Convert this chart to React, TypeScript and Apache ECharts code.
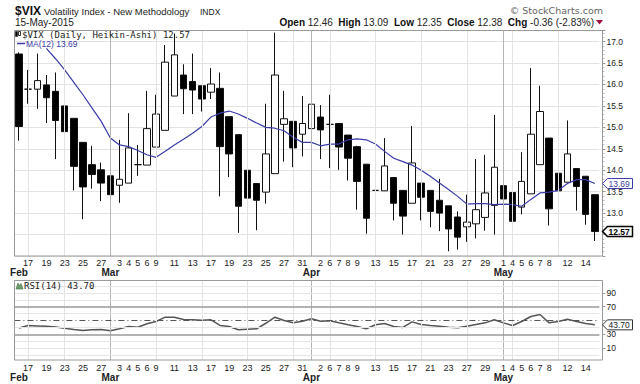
import React, { useEffect, useRef } from 'react';
import * as echarts from 'echarts';

const dates = [
  '2015-02-13','2015-02-17','2015-02-18','2015-02-19','2015-02-20','2015-02-23','2015-02-24','2015-02-25','2015-02-26','2015-02-27',
  '2015-03-02','2015-03-03','2015-03-04','2015-03-05','2015-03-06','2015-03-09','2015-03-10','2015-03-11','2015-03-12','2015-03-13',
  '2015-03-16','2015-03-17','2015-03-18','2015-03-19','2015-03-20','2015-03-23','2015-03-24','2015-03-25','2015-03-26','2015-03-27',
  '2015-03-30','2015-03-31','2015-04-01','2015-04-02','2015-04-06','2015-04-07','2015-04-08','2015-04-09','2015-04-10','2015-04-13',
  '2015-04-14','2015-04-15','2015-04-16','2015-04-17','2015-04-20','2015-04-21','2015-04-22','2015-04-23','2015-04-24','2015-04-27',
  '2015-04-28','2015-04-29','2015-04-30','2015-05-01','2015-05-04','2015-05-05','2015-05-06','2015-05-07','2015-05-08','2015-05-11',
  '2015-05-12','2015-05-13','2015-05-14','2015-05-15',
];

const dayTickDates = [
  '2015-02-17','2015-02-19','2015-02-23','2015-02-25','2015-02-27','2015-03-03','2015-03-04','2015-03-05','2015-03-06','2015-03-09',
  '2015-03-11','2015-03-13','2015-03-17','2015-03-19','2015-03-23','2015-03-25','2015-03-27','2015-03-31','2015-04-02','2015-04-06',
  '2015-04-07','2015-04-08','2015-04-09','2015-04-13','2015-04-15','2015-04-17','2015-04-21','2015-04-23','2015-04-27','2015-04-29',
  '2015-05-01','2015-05-04','2015-05-05','2015-05-06','2015-05-07','2015-05-08','2015-05-12','2015-05-14',
];

const monthNames = ['Jan','Feb','Mar','Apr','May','Jun','Jul','Aug','Sep','Oct','Nov','Dec'];

// Heikin-Ashi values
const haOpen = [16.71,15.89,15.89,15.99,15.84,15.50,15.21,14.65,14.13,14.01,13.87,13.65,13.70,14.13,14.12,14.54,14.93,15.73,16.22,16.07,15.97,15.82,15.91,15.25,14.83,14.00,13.69,13.49,13.92,15.07,15.14,14.84,14.97,15.24,15.07,15.09,14.82,14.55,14.14,13.53,13.52,13.83,13.53,13.23,13.70,13.53,13.30,13.17,12.91,12.68,12.75,12.90,13.18,13.64,13.48,13.14,13.45,14.13,14.75,13.93,13.72,14.04,13.86,13.43];
const haClose = [15.02,15.89,16.09,15.69,15.16,14.90,14.09,13.61,13.90,13.70,13.43,13.79,14.52,14.13,14.97,15.31,16.52,16.69,15.90,15.87,15.66,16.01,14.55,14.38,13.16,13.35,13.30,14.38,16.22,15.20,14.52,15.09,15.54,14.94,15.07,14.54,14.28,13.74,12.88,13.53,14.10,13.23,12.93,14.17,13.37,13.04,13.00,12.63,12.44,12.79,13.08,13.47,14.07,13.33,12.81,13.74,14.84,15.37,13.10,13.52,14.38,13.62,12.97,12.57];
const haLow = [14.69,15.55,15.43,15.10,14.26,14.49,13.53,12.86,13.57,13.28,12.89,13.24,13.70,13.87,14.12,14.54,14.93,15.73,15.31,15.31,15.37,15.66,13.39,13.84,12.54,12.90,12.60,13.22,13.92,14.20,14.07,14.32,14.97,14.26,14.05,14.01,13.76,13.08,12.52,12.71,13.52,12.83,12.50,13.23,12.83,12.67,12.58,12.11,12.15,12.33,12.41,12.59,12.50,12.69,12.11,12.97,13.45,14.13,12.71,13.02,13.72,13.06,12.73,12.35];
const haHigh = [16.75,16.34,16.72,16.22,16.28,15.50,15.21,14.65,14.57,14.18,13.87,14.71,15.33,14.59,15.85,15.76,16.92,17.19,16.47,16.72,15.97,16.38,16.28,15.25,14.83,14.00,13.70,15.55,17.21,15.85,15.14,15.73,16.67,15.52,15.76,15.09,14.82,14.57,14.14,14.32,14.75,13.83,13.53,15.03,13.70,13.53,13.80,13.17,13.04,13.43,14.26,14.36,15.29,14.00,13.48,14.42,16.38,15.97,14.75,13.93,15.16,14.04,13.86,13.43];

const ma12 = [null,null,null,16.84,16.60,16.34,16.05,15.76,15.45,15.14,14.75,14.59,14.55,14.46,14.36,14.30,14.44,14.59,14.72,14.86,15.02,15.24,15.33,15.38,15.31,15.21,15.10,15.00,14.98,14.92,14.77,14.65,14.65,14.57,14.61,14.61,14.71,14.73,14.71,14.61,14.44,14.28,14.20,14.12,14.00,13.86,13.70,13.55,13.39,13.21,13.22,13.22,13.20,13.21,13.20,13.16,13.32,13.47,13.49,13.53,13.69,13.78,13.78,13.69];

const rsi14 = [39.0,42.8,42.2,41.5,40.5,38.9,37.0,35.5,36.5,37.0,35.0,38.0,41.3,40.3,45.2,48.6,54.8,54.8,51.4,51.0,50.5,51.0,42.8,41.3,36.5,37.4,37.9,46.0,54.8,50.0,46.7,49.0,52.4,49.0,49.5,46.6,43.8,41.3,38.0,43.8,45.7,41.3,39.9,48.0,44.2,42.8,41.8,40.3,39.4,41.8,44.2,46.6,51.0,46.6,42.8,48.6,55.8,58.7,46.6,48.6,51.9,48.6,45.7,43.7];

// visible price tick labels (12.5 sits under the last-close box)
const priceTicks = [13.0, 13.5, 14.0, 14.5, 15.0, 15.5, 16.0, 16.5, 17.0];
// visible RSI tick labels (50 sits under the RSI value box)
const rsiTicks = [10, 30, 70, 90];
const rsiTickMarks = [10, 30, 50, 70, 90];
const rsiLightLevels = [0, 10, 20, 40, 60, 80, 90, 100];
const rsiBands = [70, 30];
const rsiMid = 50;

const lastClose = 12.57;
const lastMA = 13.69;
const lastRSI = 43.70;

const SANS = 'Liberation Sans, Arial, sans-serif';
const MONO = 'DejaVu Sans Mono, monospace';

const dayLabelMap: Record<string, string> = {};
dayTickDates.forEach((d) => { dayLabelMap[d] = String(parseInt(d.slice(8), 10)); });

const monthLabelMap: Record<string, string> = {};
const monthStarts: string[] = [];
const weekStarts: string[] = [];
dates.forEach((d, i) => {
  const m = parseInt(d.slice(5, 7), 10);
  const prevM = i > 0 ? parseInt(dates[i - 1].slice(5, 7), 10) : -1;
  if (m !== prevM) {
    monthLabelMap[d] = monthNames[m - 1];
    if (i > 0) monthStarts.push(d);
  }
  if (i > 0) {
    const wd = new Date(d + 'T12:00:00Z').getUTCDay();
    const pwd = new Date(dates[i - 1] + 'T12:00:00Z').getUTCDay();
    if (wd <= pwd && m === prevM) weekStarts.push(d);
  }
});

const vLines = [
  ...weekStarts.map((d) => ({ xAxis: d, lineStyle: { color: '#e3e3e3', width: 1, type: 'solid' } })),
  ...monthStarts.map((d) => ({ xAxis: d, lineStyle: { color: '#b5b5b5', width: 1, type: 'solid' } })),
];

const markBase = { symbol: ['none', 'none'], silent: true, label: { show: false }, animation: false };

const dayAxis = (gridIndex: number, margin: number) => ({
  type: 'category', gridIndex, data: dates, boundaryGap: true,
  axisLine: { show: false }, axisTick: { show: false }, splitLine: { show: false },
  axisLabel: {
    interval: 0, margin, fontSize: 9, color: '#222', fontFamily: SANS,
    formatter: (v: string) => dayLabelMap[v] || '',
  },
});
const monthAxis = (gridIndex: number, offset: number) => ({
  type: 'category', gridIndex, data: dates, boundaryGap: true, position: 'bottom', offset,
  axisLine: { show: false }, axisTick: { show: false }, splitLine: { show: false },
  axisLabel: {
    interval: 0, margin: 1, fontSize: 10, fontWeight: 'bold', color: '#222', fontFamily: SANS,
    formatter: (v: string) => monthLabelMap[v] || '',
  },
});

const option: any = {
  animation: false,
  backgroundColor: '#ffffff',
  grid: [
    { left: 14.4, top: 30, width: 585, height: 226 },
    { left: 14.4, top: 280, width: 585, height: 80 },
  ],
  xAxis: [dayAxis(0, 2), monthAxis(0, 10), dayAxis(1, 3), monthAxis(1, 11)],
  yAxis: [
    {
      type: 'value', gridIndex: 0, position: 'right', offset: 3, min: 12, max: 17.27, interval: 0.5,
      axisLine: { show: false },
      axisTick: { show: true, length: 3, lineStyle: { color: '#999' } },
      minorTick: { show: true, splitNumber: 5, length: 2, lineStyle: { color: '#bbb' } },
      splitLine: { show: true, lineStyle: { color: '#e3e3e3', width: 1 } },
      axisLabel: {
        fontSize: 8.5, color: '#222', fontFamily: SANS, margin: 4,
        showMinLabel: false, showMaxLabel: false,
        formatter: (v: number) => (priceTicks.indexOf(Math.round(v * 10) / 10) >= 0 ? v.toFixed(1) : ''),
      },
    },
    {
      type: 'value', gridIndex: 1, position: 'right', offset: 3, min: -7.25, max: 108.7,
      axisLine: { show: false },
      axisTick: { show: true, length: 3, customValues: rsiTickMarks, lineStyle: { color: '#999' } },
      splitLine: { show: false },
      axisLabel: { fontSize: 8.5, color: '#222', fontFamily: SANS, margin: 4, customValues: rsiTicks },
    },
  ],
  series: [
    {
      type: 'line', xAxisIndex: 0, yAxisIndex: 0, data: [], z: 1, silent: true,
      markLine: { ...markBase, data: vLines },
    },
    {
      type: 'candlestick', name: '$VIX', xAxisIndex: 0, yAxisIndex: 0, z: 3, barWidth: 7,
      data: haOpen.map((o, i) => [o, haClose[i], haLow[i], haHigh[i]]),
      itemStyle: { color: '#ffffff', color0: '#000000', borderColor: '#111', borderColor0: '#111', borderWidth: 1 },
    },
    {
      type: 'line', name: 'MA(12)', xAxisIndex: 0, yAxisIndex: 0, z: 4, data: ma12,
      symbol: 'none', lineStyle: { color: '#3b3ba8', width: 1.2 },
    },
    {
      type: 'line', xAxisIndex: 2, yAxisIndex: 1, data: [], z: 1, silent: true,
      markLine: {
        ...markBase,
        data: [
          ...vLines,
          ...rsiLightLevels.map((v) => ({ yAxis: v, lineStyle: { color: '#e6e6e6', width: 1, type: 'solid' } })),
          ...rsiBands.map((v) => ({ yAxis: v, lineStyle: { color: '#9a9a9a', width: 1.5, type: 'solid' } })),
          { yAxis: rsiMid, lineStyle: { color: '#555', width: 1, type: [6, 3, 1, 3] } },
        ],
      },
    },
    {
      type: 'line', name: 'RSI(14)', xAxisIndex: 2, yAxisIndex: 1, z: 4, data: rsi14,
      symbol: 'none', lineStyle: { color: '#555', width: 1.5 },
    },
  ],
};

function valueBox(y: number, text: string, stroke: string, textColor: string, bold: boolean, lw: number) {
  const x0 = 602.5;
  const h = 5;
  return [
    {
      type: 'polygon', silent: true, z: 10,
      shape: { points: [[x0, y], [x0 + 5, y - h], [x0 + 30, y - h], [x0 + 30, y + h], [x0 + 5, y + h]] },
      style: { fill: '#fff', stroke, lineWidth: lw },
    },
    {
      type: 'text', silent: true, z: 11, x: x0 + 6, y: y + 0.5,
      style: { text, fill: textColor, fontSize: 8.5, fontWeight: bold ? 'bold' : 'normal', fontFamily: SANS, verticalAlign: 'middle' },
    },
  ];
}

export default function App() {
  const ref = useRef<HTMLDivElement>(null);
  useEffect(() => {
    const chart = echarts.init(ref.current!, null, { renderer: 'svg' });
    chart.setOption(option);
    const yMA = chart.convertToPixel({ yAxisIndex: 0 } as any, lastMA) as number;
    const yClose = chart.convertToPixel({ yAxisIndex: 0 } as any, lastClose) as number;
    const yRSI = chart.convertToPixel({ yAxisIndex: 1 } as any, lastRSI) as number;

    const elements: any[] = [
      // frames
      { type: 'rect', silent: true, z: 5, shape: { x: 14.5, y: 30.5, width: 588, height: 225.5 }, style: { fill: 'none', stroke: '#9a9a9a', lineWidth: 1 } },
      { type: 'rect', silent: true, z: 5, shape: { x: 14.5, y: 280.5, width: 588, height: 79.5 }, style: { fill: 'none', stroke: '#9a9a9a', lineWidth: 1 } },
      // header
      { type: 'text', x: 15, y: 11, style: { text: '$VIX', fontSize: 12, fontWeight: 'bold', fontFamily: SANS, fill: '#111', verticalAlign: 'middle' } },
      { type: 'text', x: 44, y: 11.5, style: { text: 'Volatility Index - New Methodology', fontSize: 9.5, fontFamily: SANS, fill: '#222', verticalAlign: 'middle' } },
      { type: 'text', x: 200, y: 11.5, style: { text: 'INDX', fontSize: 8.5, fontFamily: SANS, fill: '#222', verticalAlign: 'middle' } },
      { type: 'text', x: 15, y: 22.5, style: { text: '15-May-2015', fontSize: 10, fontFamily: SANS, fill: '#222', verticalAlign: 'middle' } },
      {
        type: 'text', x: 594, y: 22.5,
        style: {
          text: '{b|Open} 12.46  {b|High} 13.09  {b|Low} 12.35  {b|Close} 12.38  {b|Chg} -0.36 (-2.83%)',
          fontSize: 10, fontFamily: SANS, fill: '#222', align: 'right', verticalAlign: 'middle',
          rich: { b: { fontWeight: 'bold', fontSize: 10, fontFamily: SANS, fill: '#111' } },
        },
      },
      { type: 'polygon', shape: { points: [[596, 20], [603, 20], [599.5, 24.5]] }, style: { fill: '#a01040' } },
      { type: 'text', x: 603, y: 10.5, style: { text: '\u00a9 StockCharts.com', fontSize: 9.5, fontFamily: 'DejaVu Sans, sans-serif', fill: '#666', align: 'right', verticalAlign: 'middle' } },
      // legend main
      { type: 'rect', z: 12, shape: { x: 15.5, y: 31.5, width: 2, height: 5 }, style: { fill: '#000', stroke: '#000', lineWidth: 0.5 } },
      { type: 'rect', z: 12, shape: { x: 18.5, y: 31.5, width: 2, height: 4 }, style: { fill: '#fff', stroke: '#000', lineWidth: 0.8 } },
      { type: 'text', z: 12, x: 22, y: 34.5, style: { text: '$VIX (Daily, Heikin-Ashi) 12.57', fontSize: 9, fontFamily: MONO, fill: '#222', verticalAlign: 'middle' } },
      { type: 'line', z: 12, shape: { x1: 17, y1: 43.5, x2: 25, y2: 43.5 }, style: { stroke: '#3b3ba8', lineWidth: 1.5 } },
      { type: 'text', z: 12, x: 26, y: 43.5, style: { text: 'MA(12) 13.69', fontSize: 8.5, fontFamily: SANS, fill: '#3b3ba8', verticalAlign: 'middle' } },
      // legend RSI
      { type: 'polygon', z: 12, shape: { points: [[16, 289], [18, 283], [19.5, 286], [21, 283.5], [23, 289]] }, style: { fill: '#6f9f6f', stroke: '#3f6f3f', lineWidth: 0.6 } },
      { type: 'text', z: 12, x: 24, y: 285.5, style: { text: 'RSI(14) 43.70', fontSize: 9, fontFamily: MONO, fill: '#222', verticalAlign: 'middle' } },
      // value boxes
      ...valueBox(yMA, lastMA.toFixed(2), '#3b3ba8', '#3b3ba8', false, 1),
      ...valueBox(yClose, lastClose.toFixed(2), '#000', '#000', true, 1.5),
      ...valueBox(yRSI, lastRSI.toFixed(2), '#333', '#222', false, 1),
    ];
    chart.setOption({ graphic: { elements } });
    return () => chart.dispose();
  }, []);
  return <div ref={ref} style={{ position: 'absolute', left: 0, top: 0, width: 640, height: 384, background: '#fff' }} />;
}
